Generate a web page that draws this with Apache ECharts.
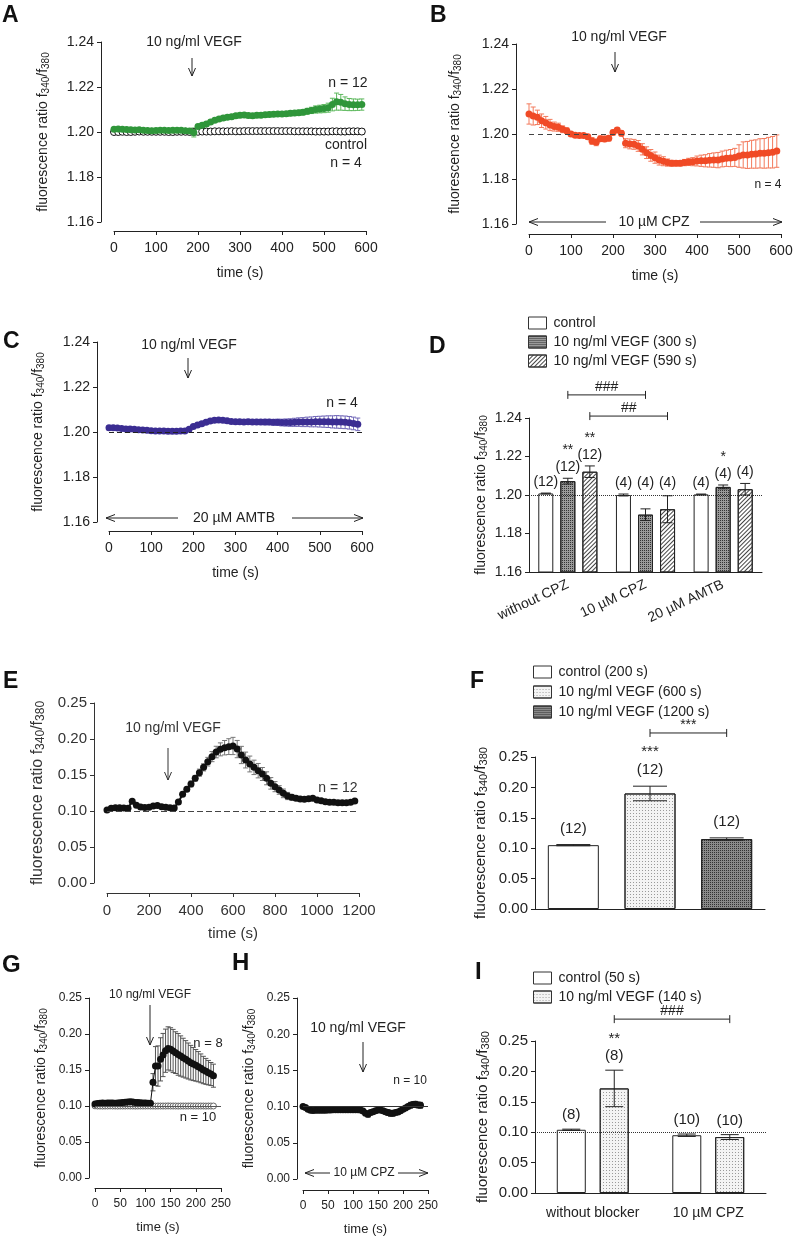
<!DOCTYPE html>
<html>
<head>
<meta charset="utf-8">
<script src="https://cdn.jsdelivr.net/npm/echarts@6/dist/echarts.min.js"></script>
<style>
html, body { margin: 0; padding: 0; background: #fff; }
#fig { width: 794px; height: 1240px; }
</style>
</head>
<body>
<div id="fig"></div>
<script>
// ---- sample times ----
var t10 = [0,10,20,30,40,50,60,70,80,90,100,110,120,130,140,150,160,170,180,190,
  200,210,220,230,240,250,260,270,280,290,300,310,320,330,340,350,360,370,380,390,
  400,410,420,430,440,450,460,470,480,490,500,510,520,530,540,550,560,570,580,590];
var tE = [0,20,40,60,80,100,120,140,160,180,200,220,240,260,280,300,320,340,360,380,
  400,420,440,460,480,500,520,540,560,580,600,620,640,660,680,700,720,740,760,780,
  800,820,840,860,880,900,920,940,960,980,1000,1020,1040,1060,1080,1100,1120,1140,1160,1180];
var tG = [0,5,10,15,20,25,30,35,40,45,50,55,60,65,70,75,80,85,90,95,
  100,105,110,115,120,125,130,135,140,145,150,155,160,165,170,175,180,185,190,195,
  200,205,210,215,220,225,230,235];

// ---- A: VEGF (green) and control ----
var aVegf = [1.2012,1.2013,1.2012,1.2011,1.2010,1.2009,1.2010,1.2008,1.2007,1.2006,
  1.2007,1.2008,1.2008,1.2007,1.2008,1.2008,1.2008,1.2006,1.2004,1.1998,
  1.2025,1.2030,1.2036,1.2045,1.2052,1.2058,1.2062,1.2066,1.2068,1.2072,
  1.2074,1.2076,1.2073,1.2072,1.2074,1.2075,1.2077,1.2078,1.2079,1.2080,
  1.2080,1.2081,1.2083,1.2084,1.2086,1.2088,1.2092,1.2096,1.2100,1.2102,
  1.2104,1.2108,1.2122,1.2135,1.2132,1.2126,1.2122,1.2121,1.2121,1.2122];
var aVegfErr = [0.0005,0.0005,0.0005,0.0004,0.0004,0.0004,0.0004,0.0004,0.0004,0.0004,
  0.0004,0.0004,0.0004,0.0004,0.0004,0.0004,0.0005,0.0005,0.0006,0.0020,
  0.0009,0.0009,0.0009,0.0009,0.0009,0.0009,0.0009,0.0009,0.0010,0.0010,
  0.0010,0.0010,0.0010,0.0010,0.0010,0.0010,0.0010,0.0010,0.0010,0.0010,
  0.0010,0.0010,0.0011,0.0011,0.0011,0.0012,0.0013,0.0014,0.0016,0.0017,
  0.0018,0.0020,0.0028,0.0038,0.0035,0.0030,0.0027,0.0026,0.0025,0.0025];
var aCtrl = [1.2000,1.2000,1.2001,1.2000,1.2000,1.2001,1.2002,1.2001,1.2001,1.2001,
  1.2001,1.2001,1.2001,1.2000,1.2000,1.2001,1.2001,1.2001,1.2000,1.2000,
  1.2001,1.2002,1.2002,1.2002,1.2003,1.2003,1.2003,1.2003,1.2004,1.2003,
  1.2003,1.2004,1.2004,1.2004,1.2004,1.2004,1.2004,1.2004,1.2004,1.2004,
  1.2004,1.2004,1.2004,1.2003,1.2003,1.2003,1.2003,1.2003,1.2002,1.2002,
  1.2002,1.2002,1.2003,1.2003,1.2002,1.2002,1.2003,1.2003,1.2003,1.2002];
var aCtrlErr = [0.0004,0.0004,0.0004,0.0004,0.0004,0.0004,0.0004,0.0004,0.0004,0.0004,
  0.0004,0.0004,0.0004,0.0004,0.0004,0.0004,0.0004,0.0004,0.0004,0.0005,
  0.0004,0.0004,0.0004,0.0004,0.0004,0.0005,0.0005,0.0005,0.0006,0.0008,
  0.0006,0.0005,0.0005,0.0005,0.0005,0.0005,0.0005,0.0005,0.0005,0.0005,
  0.0005,0.0005,0.0005,0.0005,0.0006,0.0006,0.0006,0.0006,0.0007,0.0007,
  0.0008,0.0008,0.0009,0.0010,0.0012,0.0012,0.0012,0.0012,0.0012,0.0012];

// ---- B: with CPZ (red) ----
var bVegf = [1.2089,1.2080,1.2074,1.2059,1.2050,1.2040,1.2033,1.2030,1.2021,1.2015,
  1.2000,1.1994,1.1993,1.1993,1.1988,1.1969,1.1963,1.1979,1.1978,1.1981,
  1.2007,1.2018,1.2003,1.1959,1.1956,1.1954,1.1947,1.1932,1.1917,1.1905,
  1.1895,1.1884,1.1879,1.1873,1.1870,1.1870,1.1870,1.1873,1.1876,1.1877,
  1.1880,1.1881,1.1881,1.1883,1.1884,1.1884,1.1889,1.1892,1.1893,1.1896,
  1.1902,1.1907,1.1907,1.1910,1.1911,1.1914,1.1914,1.1917,1.1919,1.1924];
var bVegfErr = [0.0045,0.0040,0.0032,0.0030,0.0028,0.0025,0.0020,0.0018,0.0015,0.0012,
  0.0008,0.0008,0.0008,0.0008,0.0010,0.0015,0.0015,0.0012,0.0012,0.0012,
  0.0010,0.0010,0.0012,0.0020,0.0022,0.0022,0.0024,0.0025,0.0026,0.0026,
  0.0025,0.0022,0.0020,0.0016,0.0013,0.0012,0.0012,0.0014,0.0016,0.0018,
  0.0022,0.0025,0.0027,0.0030,0.0032,0.0034,0.0035,0.0036,0.0038,0.0040,
  0.0050,0.0058,0.0060,0.0062,0.0063,0.0065,0.0066,0.0068,0.0070,0.0072];

// ---- C: with AMTB (blue) ----
var cVegf = [1.2019,1.2019,1.2018,1.2016,1.2013,1.2013,1.2012,1.2010,1.2009,1.2008,
  1.2006,1.2005,1.2004,1.2004,1.2003,1.2003,1.2003,1.2004,1.2005,1.2012,
  1.2024,1.2031,1.2037,1.2043,1.2049,1.2052,1.2053,1.2052,1.2050,1.2047,
  1.2046,1.2046,1.2045,1.2046,1.2045,1.2045,1.2044,1.2044,1.2044,1.2043,
  1.2043,1.2042,1.2042,1.2042,1.2043,1.2044,1.2044,1.2045,1.2045,1.2046,
  1.2046,1.2046,1.2046,1.2045,1.2045,1.2044,1.2043,1.2041,1.2038,1.2034];
var cVegfErr = [0.0008,0.0007,0.0007,0.0006,0.0006,0.0005,0.0005,0.0005,0.0005,0.0005,
  0.0004,0.0004,0.0004,0.0004,0.0004,0.0004,0.0004,0.0004,0.0005,0.0006,
  0.0007,0.0007,0.0007,0.0007,0.0007,0.0007,0.0007,0.0008,0.0008,0.0008,
  0.0009,0.0009,0.0010,0.0010,0.0010,0.0011,0.0011,0.0012,0.0012,0.0013,
  0.0014,0.0015,0.0016,0.0017,0.0018,0.0019,0.0020,0.0021,0.0022,0.0023,
  0.0024,0.0025,0.0026,0.0027,0.0028,0.0028,0.0028,0.0028,0.0028,0.0028];

// ---- D: summary bars ----
var dCats = ['without CPZ', '10 µM CPZ', '20 µM AMTB'];
var dCtrl = [1.2008, 1.2000, 1.2003];
var dCtrlErr = [0.0002, 0.0005, 0.0002];
var dV300 = [1.2072, 1.1898, 1.2042];
var dV300Err = [0.0015, 0.0030, 0.0010];
var dV590 = [1.2121, 1.1926, 1.2030];
var dV590Err = [0.0030, 0.0070, 0.0030];
var dN = ['(12)', '(4)', '(4)'];
var dStars300 = ['**', '', '*'];
var dStars590 = ['**', '', ''];

// ---- E: long recording ----
var eVegf = [0.1014,0.1037,0.1044,0.1046,0.1042,0.1037,0.1135,0.1080,0.1055,0.1050,
  0.1051,0.1068,0.1078,0.1060,0.1051,0.1045,0.1040,0.1125,0.1231,0.1301,
  0.1375,0.1454,0.1532,0.1606,0.1685,0.1755,0.1819,0.1856,0.1879,0.1894,
  0.1903,0.1860,0.1778,0.1708,0.1653,0.1606,0.1560,0.1514,0.1454,0.1384,
  0.1338,0.1292,0.1245,0.1208,0.1190,0.1176,0.1167,0.1162,0.1171,0.1176,
  0.1153,0.1144,0.1130,0.1120,0.1120,0.1116,0.1116,0.1116,0.1120,0.1140];
var eVegfErr = [0.001,0.001,0.001,0.001,0.001,0.001,0.002,0.001,0.001,0.001,
  0.001,0.001,0.001,0.001,0.001,0.001,0.001,0.002,0.003,0.003,
  0.004,0.004,0.005,0.005,0.006,0.007,0.008,0.009,0.010,0.011,
  0.012,0.012,0.012,0.011,0.011,0.010,0.010,0.009,0.009,0.008,
  0.007,0.006,0.006,0.005,0.004,0.003,0.003,0.002,0.002,0.002,
  0.002,0.002,0.002,0.002,0.002,0.002,0.002,0.002,0.002,0.002];

// ---- F: summary bars ----
var fNames = ['control (200 s)', '10 ng/ml VEGF (600 s)', '10 ng/ml VEGF (1200 s)'];
var fVals = [0.105, 0.190, 0.115];
var fErr = [0.001, 0.012, 0.002];
var fN = ['(12)', '(12)', '(12)'];
var fStars = ['', '***', ''];

// ---- G: fast sampling, VEGF and control ----
var gVegf = [0.1028,0.1035,0.1037,0.1040,0.1038,0.1040,0.1042,0.1040,0.1038,0.1040,
  0.1045,0.1048,0.1052,0.1055,0.1058,0.1055,0.1050,0.1048,0.1045,0.1042,
  0.1040,0.1038,0.1037,0.1330,0.1555,0.1555,0.1648,0.1708,0.1768,0.1800,
  0.1787,0.1764,0.1741,0.1717,0.1694,0.1671,0.1648,0.1625,0.1602,0.1583,
  0.1565,0.1546,0.1523,0.1500,0.1481,0.1463,0.1444,0.1421];
var gVegfErr = [0.001,0.001,0.001,0.001,0.001,0.001,0.001,0.001,0.001,0.001,
  0.001,0.001,0.001,0.001,0.001,0.001,0.001,0.001,0.001,0.001,
  0.001,0.001,0.001,0.012,0.027,0.028,0.030,0.030,0.030,0.030,
  0.030,0.030,0.029,0.029,0.028,0.027,0.026,0.025,0.024,0.023,
  0.022,0.021,0.020,0.019,0.018,0.017,0.016,0.016];
var gCtrl = [0.1002,0.1000,0.1000,0.0999,0.1000,0.1000,0.1001,0.1000,0.1000,0.0999,
  0.1000,0.1000,0.1000,0.1001,0.1000,0.1000,0.0999,0.1000,0.1000,0.1000,
  0.1000,0.1001,0.1000,0.1000,0.0999,0.1000,0.1000,0.1000,0.1000,0.1001,
  0.1000,0.1000,0.1000,0.0999,0.1000,0.1000,0.1000,0.1000,0.1001,0.1000,
  0.1000,0.1000,0.1000,0.1000,0.0999,0.1000,0.1000,0.1000];

// ---- H: with CPZ ----
var hVegf = [0.1000,0.0986,0.0963,0.0950,0.0945,0.0948,0.0950,0.0949,0.0950,0.0951,
  0.0952,0.0953,0.0955,0.0956,0.0957,0.0958,0.0958,0.0957,0.0958,0.0957,
  0.0956,0.0955,0.0956,0.0954,0.0940,0.0907,0.0894,0.0917,0.0930,0.0944,
  0.0954,0.0954,0.0944,0.0930,0.0917,0.0907,0.0907,0.0917,0.0926,0.0944,
  0.0963,0.0981,0.1000,0.1019,0.1028,0.1032,0.1023,0.1019];
var hVegfErr = [0.001,0.001,0.001,0.001,0.001,0.001,0.001,0.001,0.001,0.001,
  0.001,0.001,0.001,0.001,0.001,0.001,0.001,0.001,0.001,0.001,
  0.001,0.001,0.001,0.001,0.002,0.003,0.004,0.003,0.002,0.001,
  0.001,0.001,0.003,0.003,0.004,0.004,0.004,0.003,0.003,0.002,
  0.002,0.002,0.003,0.004,0.004,0.004,0.004,0.004];

// ---- I: summary bars ----
var iCats = ['without blocker', '10 µM CPZ'];
var iCtrl = [0.104, 0.095];
var iCtrlErr = [0.001, 0.002];
var iVegf = [0.172, 0.092];
var iVegfErr = [0.030, 0.004];
var iN = ['(8)', '(10)'];
var iStars = ['**', ''];

// ---------------------------------------------------------------
var FONT = "'Liberation Sans', Arial, sans-serif";
var INK = '#222';

function pts(xs, ys, es) {
  return xs.map(function (x, i) { return es ? [x, ys[i], es[i]] : [x, ys[i]]; });
}

function yLabel(fs, font, color) {
  return {
    name: '{m|fluorescence ratio f}{s|340}{m|/f}{s|380}',
    nameLocation: 'middle', nameRotate: 90, nameMoveOverlap: false,
    nameTextStyle: {
      rich: {
        m: { fontSize: fs, fontFamily: font, color: color },
        s: { fontSize: Math.round(fs * 0.72), fontFamily: font, color: color,
             verticalAlign: 'bottom', padding: [Math.round(fs * 0.4), 0, 0, 0] }
      }
    }
  };
}

function valueAxis(gi, min, max, step, o) {
  var ax = {
    type: 'value', gridIndex: gi, min: min, max: max, interval: step,
    offset: o.offset || 0,
    axisLine: { show: true, onZero: false, lineStyle: { color: o.color || INK, width: 1 } },
    axisTick: { show: true, length: 4, lineStyle: { color: o.color || INK } },
    axisLabel: { fontSize: o.fs, fontFamily: FONT, color: o.color || INK,
                 margin: o.margin || 7, formatter: o.fmt || function (v) { return String(v); } },
    splitLine: { show: false }
  };
  if (o.yname) {
    var n = yLabel(o.nfs || o.fs, FONT, o.color || INK);
    for (var k in n) ax[k] = n[k];
    ax.nameGap = o.gap;
  }
  if (o.xname) {
    ax.name = 'time (s)';
    ax.nameLocation = 'middle';
    ax.nameGap = o.gap;
    ax.nameTextStyle = { fontSize: o.nfs || o.fs, fontFamily: FONT, color: o.color || INK };
  }
  return ax;
}

function fix2(v) { return v.toFixed(2); }

function catAxis(gi, cats, o) {
  return {
    type: 'category', gridIndex: gi, data: cats,
    axisLine: { show: true, onZero: false, lineStyle: { color: INK } },
    axisTick: { show: false },
    axisLabel: { show: o.show !== false, fontSize: 14, fontFamily: FONT, color: INK,
                 rotate: o.rotate || 0, margin: o.margin || 8, interval: 0 },
    splitLine: { show: false }
  };
}

function dots(name, gi, data, color, size, hollow, lw) {
  return {
    name: name, type: 'line', xAxisIndex: gi, yAxisIndex: gi, data: data,
    symbol: 'circle', symbolSize: size, showSymbol: true, z: 4, silent: true,
    itemStyle: hollow ? { color: '#fff', borderColor: color, borderWidth: 1 } : { color: color },
    lineStyle: { color: color, width: lw || 1 }
  };
}

function errBars(gi, data, color, cap) {
  return {
    type: 'custom', xAxisIndex: gi, yAxisIndex: gi, data: data, z: 3, silent: true,
    encode: { x: 0, y: 1 },
    renderItem: function (p, api) {
      var x = api.value(0), y = api.value(1), e = api.value(2);
      var hi = api.coord([x, y + e]), lo = api.coord([x, y - e]);
      var st = { stroke: color, lineWidth: 1 };
      return { type: 'group', children: [
        { type: 'line', shape: { x1: hi[0], y1: hi[1], x2: lo[0], y2: lo[1] }, style: st },
        { type: 'line', shape: { x1: hi[0] - cap, y1: hi[1], x2: hi[0] + cap, y2: hi[1] }, style: st },
        { type: 'line', shape: { x1: lo[0] - cap, y1: lo[1], x2: lo[0] + cap, y2: lo[1] }, style: st }
      ] };
    }
  };
}

function refLine(y, type, color) {
  return { silent: true, symbol: 'none', label: { show: false },
           lineStyle: { type: type, color: color || '#333', width: 1 },
           data: [{ yAxis: y }] };
}

// error bars + "(n)" + stars above grouped bars
function barErr(gi, vals, errs, ns, stars, off, o) {
  return {
    type: 'custom', xAxisIndex: gi, yAxisIndex: gi, z: 6, silent: true, clip: false,
    data: vals.map(function (v, i) { return [i, v, errs[i]]; }),
    encode: { x: 0, y: 1 },
    renderItem: function (p, api) {
      var i = api.value(0), v = api.value(1), e = api.value(2);
      var x = api.coord([i, v])[0] + off;
      var hi = api.coord([i, v + e])[1], lo = api.coord([i, v - e])[1];
      var top = hi;
      if (o.floor != null) top = Math.min(top, api.coord([i, o.floor])[1]);
      var ly = top - o.gap;
      var st = { stroke: INK, lineWidth: 1 };
      var kids = [
        { type: 'line', shape: { x1: x, y1: hi, x2: x, y2: lo }, style: st },
        { type: 'line', shape: { x1: x - o.cap, y1: hi, x2: x + o.cap, y2: hi }, style: st },
        { type: 'line', shape: { x1: x - o.cap, y1: lo, x2: x + o.cap, y2: lo }, style: st },
        { type: 'text', x: x, y: ly, style: { text: ns[p.dataIndex], align: 'center', verticalAlign: 'middle',
          fontSize: o.fs, fontFamily: FONT, fill: INK } }
      ];
      if (stars[p.dataIndex]) {
        kids.push({ type: 'text', x: x, y: ly - o.sgap, style: { text: stars[p.dataIndex], align: 'center',
          verticalAlign: 'middle', fontSize: o.fs, fontFamily: FONT, fill: INK } });
      }
      return { type: 'group', children: kids };
    }
  };
}

function brackets(gi, items, offs, fs) {
  return {
    type: 'custom', xAxisIndex: gi, yAxisIndex: gi, z: 6, silent: true, clip: false,
    data: items.map(function (b) { return [b.a[0], b.y]; }),
    encode: { x: 0, y: 1 },
    renderItem: function (p, api) {
      var b = items[p.dataIndex];
      var p1 = api.coord([b.a[0], b.y]), p2 = api.coord([b.b[0], b.y]);
      var x1 = p1[0] + offs[b.a[1]], x2 = p2[0] + offs[b.b[1]], y = p1[1];
      var st = { stroke: INK, lineWidth: 1 };
      return { type: 'group', children: [
        { type: 'line', shape: { x1: x1, y1: y, x2: x2, y2: y }, style: st },
        { type: 'line', shape: { x1: x1, y1: y - 4, x2: x1, y2: y + 4 }, style: st },
        { type: 'line', shape: { x1: x2, y1: y - 4, x2: x2, y2: y + 4 }, style: st },
        { type: 'text', x: (x1 + x2) / 2, y: y - 8, style: { text: b.text, align: 'center', verticalAlign: 'middle',
          fontSize: fs, fontFamily: FONT, fill: INK } }
      ] };
    }
  };
}

var CHECK = { symbol: 'rect', symbolSize: 1, dashArrayX: [1, 1], dashArrayY: [1, 1], color: '#333' };
var HATCH = { symbol: 'rect', symbolSize: 1, dashArrayX: [1, 0], dashArrayY: [1, 2], rotation: -Math.PI / 4, color: '#444' };
var DOTS = { symbol: 'rect', symbolSize: 1, dashArrayX: [1, 2], dashArrayY: [1, 2], color: '#9a9a9a' };

function bars(name, gi, data, fill, decal, width, gap) {
  var s = {
    name: name, type: 'bar', xAxisIndex: gi, yAxisIndex: gi, data: data, clip: true,
    barWidth: width, z: 2, silent: true,
    itemStyle: { color: fill, borderColor: INK, borderWidth: 1 }
  };
  if (decal) s.itemStyle.decal = decal;
  if (gap) s.barGap = gap;
  return s;
}

// ---- annotation helpers (pixel positions) ----
function txt(x, y, s, fs, opt) {
  opt = opt || {};
  return { type: 'text', x: x, y: y, silent: true, style: { text: s, fontSize: fs, fontFamily: FONT,
    fontWeight: opt.bold ? 'bold' : 'normal', fill: opt.color || INK,
    align: opt.align || 'center', verticalAlign: opt.valign || 'middle' } };
}
function letter(x, y, s, fs) {
  return txt(x, y, s, fs, { bold: true, align: 'left', valign: 'top', color: '#111' });
}
function down(x, y1, y2, c) {
  var st = { stroke: c || INK, lineWidth: 1, fill: null };
  return [
    { type: 'line', silent: true, shape: { x1: x, y1: y1, x2: x, y2: y2 }, style: st },
    { type: 'polyline', silent: true, shape: { points: [[x - 3.5, y2 - 8], [x, y2], [x + 3.5, y2 - 8]] }, style: st }
  ];
}
function side(x1, x2, y) { // head at x2
  var d = x2 > x1 ? -1 : 1;
  var st = { stroke: INK, lineWidth: 1, fill: null };
  return [
    { type: 'line', silent: true, shape: { x1: x1, y1: y, x2: x2, y2: y }, style: st },
    { type: 'polyline', silent: true, shape: { points: [[x2 + d * 9, y - 3.5], [x2, y], [x2 + d * 9, y + 3.5]] }, style: st }
  ];
}

var notes = [].concat(
  letter(2, 4, 'A', 23), letter(430, 4, 'B', 23), letter(3, 330, 'C', 23),
  letter(429, 335, 'D', 23), letter(3, 670, 'E', 23), letter(470, 670, 'F', 23),
  letter(2, 953, 'G', 24), letter(232, 951, 'H', 24), letter(475, 960, 'I', 24),
  // A
  txt(194, 42, '10 ng/ml VEGF', 14), down(192, 58, 76),
  txt(348, 83, 'n = 12', 14), txt(346, 145, 'control', 14), txt(346, 163, 'n = 4', 14),
  // B
  txt(619, 37, '10 ng/ml VEGF', 14), down(615, 52, 72),
  txt(768, 185, 'n = 4', 12), txt(654, 222, '10 µM CPZ', 14),
  side(606, 529, 222), side(700, 782, 222),
  // C
  txt(189, 345, '10 ng/ml VEGF', 14), down(188, 358, 378),
  txt(342, 403, 'n = 4', 14), txt(234, 518, '20 µM AMTB', 14),
  side(178, 106, 518), side(292, 363, 518),
  // E
  txt(173, 728, '10 ng/ml VEGF', 14, { color: '#333' }), down(168, 748, 780, '#333'),
  txt(338, 788, 'n = 12', 14, { color: '#333' }),
  // G
  txt(150, 995, '10 ng/ml VEGF', 12), down(150, 1005, 1045),
  txt(208, 1043, 'n = 8', 13), txt(198, 1117, 'n = 10', 13),
  // H
  txt(358, 1028, '10 ng/ml VEGF', 14), down(363, 1042, 1072),
  txt(410, 1081, 'n = 10', 12), txt(364, 1173, '10 µM CPZ', 12),
  side(330, 305, 1173), side(398, 428, 1173)
);

var grids = [
  { left: 114, top: 42, width: 252, height: 180 },   // A
  { left: 529, top: 44, width: 252, height: 180 },   // B
  { left: 109, top: 342, width: 253, height: 180 },  // C
  { left: 529, top: 418, width: 233, height: 154 },  // D
  { left: 107, top: 703, width: 252, height: 180 },  // E
  { left: 535, top: 757, width: 230, height: 152 },  // F
  { left: 95, top: 998, width: 126, height: 180 },   // G
  { left: 303, top: 998, width: 125, height: 181 },  // H
  { left: 535, top: 1041, width: 231, height: 152 }  // I
];
grids.forEach(function (g) { g.containLabel = false; g.outerBoundsMode = 'none'; });

var xAxes = [
  valueAxis(0, 0, 600, 100, { offset: 9, fs: 14, margin: 10, xname: true, gap: 35 }),
  valueAxis(1, 0, 600, 100, { offset: 10, fs: 14, margin: 10, xname: true, gap: 35 }),
  valueAxis(2, 0, 600, 100, { offset: 9, fs: 14, margin: 10, xname: true, gap: 35 }),
  catAxis(3, dCats, { rotate: 25, margin: 12 }),
  valueAxis(4, 0, 1200, 200, { offset: 10, fs: 15, margin: 10, xname: true, gap: 33, color: '#333' }),
  catAxis(5, fNames, { show: false }),
  valueAxis(6, 0, 250, 50, { offset: 10, fs: 12, nfs: 13, margin: 10, xname: true, gap: 33 }),
  valueAxis(7, 0, 250, 50, { offset: 11, fs: 12, nfs: 13, margin: 10, xname: true, gap: 33 }),
  catAxis(8, iCats, { margin: 13 })
];
var yAxes = [
  valueAxis(0, 1.16, 1.24, 0.02, { offset: 13, fs: 14, fmt: fix2, yname: true, gap: 50 }),
  valueAxis(1, 1.16, 1.24, 0.02, { offset: 13, fs: 14, fmt: fix2, yname: true, gap: 53 }),
  valueAxis(2, 1.16, 1.24, 0.02, { offset: 12, fs: 14, fmt: fix2, yname: true, gap: 51 }),
  valueAxis(3, 1.16, 1.24, 0.02, { fs: 14, fmt: fix2, yname: true, gap: 40 }),
  valueAxis(4, 0, 0.25, 0.05, { offset: 13, fs: 15, fmt: fix2, yname: true, nfs: 16, gap: 47, color: '#333' }),
  valueAxis(5, 0, 0.25, 0.05, { fs: 15, fmt: fix2, yname: true, nfs: 15, gap: 46 }),
  valueAxis(6, 0, 0.25, 0.05, { offset: 6, fs: 12, nfs: 14, fmt: fix2, yname: true, gap: 40 }),
  valueAxis(7, 0, 0.25, 0.05, { offset: 6, fs: 12, nfs: 14, fmt: fix2, yname: true, gap: 40 }),
  valueAxis(8, 0, 0.25, 0.05, { fs: 15, fmt: fix2, yname: true, gap: 44 })
];

var GREEN = '#2f963a', RED = '#f04a26', BLUE = '#3b2d92';
var dOff = [-22, 0, 22], iOff = [-21.5, 21.5];

function only(vals, k) { return vals.map(function (v, j) { return j === k ? v : '-'; }); }

var series = [
  // A
  errBars(0, pts(t10, aCtrl, aCtrlErr), '#222', 2.5),
  dots('A control', 0, pts(t10, aCtrl), '#111', 7, true),
  errBars(0, pts(t10, aVegf, aVegfErr), '#5cb85c', 2.5),
  dots('A VEGF', 0, pts(t10, aVegf), GREEN, 7),
  // B
  errBars(1, pts(t10, bVegf, bVegfErr), '#f37a5c', 2.5),
  (function () { var s = dots('B VEGF', 1, pts(t10, bVegf), RED, 7); s.markLine = refLine(1.2, [5, 4], '#444'); return s; })(),
  // C
  errBars(2, pts(t10, cVegf, cVegfErr), '#7268b8', 2.5),
  (function () { var s = dots('C VEGF', 2, pts(t10, cVegf), BLUE, 7); s.markLine = refLine(1.2, [5, 3], '#222'); return s; })(),
  // D
  (function () { var s = bars('control', 3, dCtrl, '#fff', null, 15, '47%'); s.markLine = refLine(1.2, 'dotted', '#333'); return s; })(),
  bars('10 ng/ml VEGF (300 s)', 3, dV300, '#9a9a9a', CHECK, 15, '47%'),
  bars('10 ng/ml VEGF (590 s)', 3, dV590, '#fff', HATCH, 15, '47%'),
  barErr(3, dCtrl, dCtrlErr, dN, ['', '', ''], dOff[0], { cap: 5, gap: 11, sgap: 17, fs: 14, floor: 1.2005 }),
  barErr(3, dV300, dV300Err, dN, dStars300, dOff[1], { cap: 5, gap: 11, sgap: 17, fs: 14, floor: 1.2005 }),
  barErr(3, dV590, dV590Err, dN, dStars590, dOff[2], { cap: 5, gap: 11, sgap: 17, fs: 14, floor: 1.2005 }),
  brackets(3, [{ a: [0, 1], b: [1, 1], y: 1.252, text: '###' }, { a: [0, 2], b: [1, 2], y: 1.241, text: '##' }], dOff, 14),
  // E
  errBars(4, pts(tE, eVegf, eVegfErr), '#777', 2.5),
  (function () { var s = dots('E VEGF', 4, pts(tE, eVegf), '#111', 7, false, 2); s.markLine = refLine(0.1, [6, 3], '#444'); return s; })(),
  // F
  bars(fNames[0], 5, only(fVals, 0), '#fff', null, 51, '-100%'),
  bars(fNames[1], 5, only(fVals, 1), '#f4f4f4', DOTS, 51, '-100%'),
  bars(fNames[2], 5, only(fVals, 2), '#8a8a8a', CHECK, 51, '-100%'),
  barErr(5, fVals, fErr, fN, fStars, 0, { cap: 17, gap: 16, sgap: 18, fs: 15 }),
  brackets(5, [{ a: [1, 0], b: [2, 0], y: 0.2895, text: '***' }], [0], 14),
  // G
  dots('G control', 6, pts(tG, gCtrl), '#666', 6, true),
  errBars(6, pts(tG, gVegf, gVegfErr), '#555', 2.5),
  (function () { var s = dots('G VEGF', 6, pts(tG, gVegf), '#111', 7); s.markLine = refLine(0.1, 'solid', '#555'); return s; })(),
  // H
  errBars(7, pts(tG, hVegf, hVegfErr), '#555', 2.5),
  (function () { var s = dots('H VEGF', 7, pts(tG, hVegf), '#111', 7); s.markLine = refLine(0.1, 'solid', '#333'); return s; })(),
  // I
  (function () { var s = bars('control (50 s)', 8, iCtrl, '#fff', null, 29, '48%'); s.markLine = refLine(0.1, 'dotted', '#333'); return s; })(),
  bars('10 ng/ml VEGF (140 s)', 8, iVegf, '#f4f4f4', DOTS, 29, '48%'),
  barErr(8, iCtrl, iCtrlErr, iN, ['', ''], iOff[0], { cap: 9, gap: 14, sgap: 17, fs: 15 }),
  barErr(8, iVegf, iVegfErr, iN, iStars, iOff[1], { cap: 9, gap: 14, sgap: 17, fs: 15 }),
  brackets(8, [{ a: [0, 1], b: [1, 1], y: 0.286, text: '###' }], iOff, 14)
];

function legendBox(names, left, top, gap) {
  return {
    data: names, orient: 'vertical', left: left, top: top, icon: 'rect',
    itemWidth: 18, itemHeight: 12, itemGap: gap, selectedMode: false,
    itemStyle: { borderColor: '#333', borderWidth: 1 },
    textStyle: { fontSize: 14, fontFamily: FONT, color: INK, padding: [0, 0, 0, 2] }
  };
}

var option = {
  animation: false,
  backgroundColor: '#fff',
  textStyle: { fontFamily: FONT },
  grid: grids,
  xAxis: xAxes,
  yAxis: yAxes,
  legend: [
    legendBox(['control', '10 ng/ml VEGF (300 s)', '10 ng/ml VEGF (590 s)'], 523, 311, 5),
    legendBox(fNames, 528, 660, 6),
    legendBox(['control (50 s)', '10 ng/ml VEGF (140 s)'], 528, 966, 5)
  ],
  series: series,
  graphic: { elements: notes }
};

var chart = echarts.init(document.getElementById('fig'), null, { renderer: 'canvas' });
chart.setOption(option);
</script>
</body>
</html>
